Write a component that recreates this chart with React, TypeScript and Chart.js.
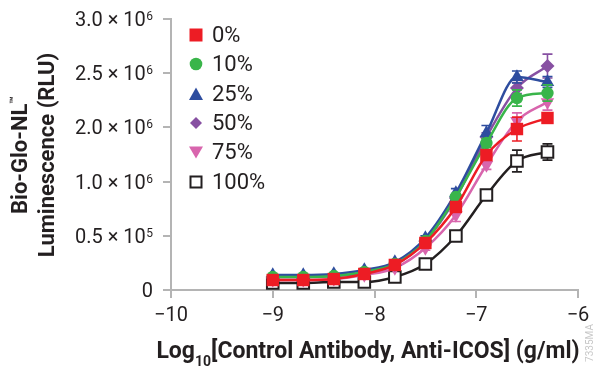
import React, { useEffect, useRef } from 'react';
import { Chart, registerables } from 'chart.js';

Chart.register(...registerables);

// log10 concentration (g/ml)
const logConc = [-9, -8.7, -8.4, -8.1, -7.8, -7.5, -7.2, -6.9, -6.6, -6.3];

const seriesLabels = ['0%', '10%', '25%', '50%', '75%', '100%'];
const seriesColors = ['#ed1c24', '#39b54a', '#2e4d9f', '#8750a2', '#d865ad', '#231f20'];

// luminescence, in axis positions (one tick step = 0.5)
const rlu0 = [0.092, 0.092, 0.101, 0.148, 0.231, 0.434, 0.766, 1.245, 1.485, 1.587];
const rlu10 = [0.12, 0.12, 0.129, 0.166, 0.24, 0.452, 0.858, 1.356, 1.771, 1.817];
const rlu25 = [0.138, 0.138, 0.148, 0.185, 0.258, 0.48, 0.895, 1.448, 1.965, 1.919];
const rlu50 = [0.12, 0.12, 0.129, 0.157, 0.231, 0.452, 0.849, 1.411, 1.863, 2.066];
const rlu75 = [0.092, 0.092, 0.101, 0.138, 0.203, 0.387, 0.692, 1.153, 1.559, 1.734];
const rlu100 = [0.065, 0.065, 0.074, 0.074, 0.12, 0.24, 0.498, 0.876, 1.19, 1.273];

// error bar half-lengths, same units
const err0 = [0, 0, 0, 0, 0.01, 0.02, 0.03, 0.045, 0.11, 0.045];
const err10 = [0, 0, 0, 0, 0.01, 0.02, 0.03, 0.04, 0.075, 0.075];
const err25 = [0, 0, 0, 0, 0.01, 0.02, 0.04, 0.07, 0.055, 0.05];
const err50 = [0, 0, 0, 0, 0.01, 0.02, 0.03, 0.04, 0.05, 0.11];
const err75 = [0, 0, 0, 0, 0.01, 0.02, 0.06, 0.04, 0.075, 0.075];
const err100 = [0, 0, 0, 0, 0.01, 0.01, 0.02, 0.03, 0.1, 0.075];

const seriesValues = [rlu0, rlu10, rlu25, rlu50, rlu75, rlu100];
const seriesErrors = [err0, err10, err25, err50, err75, err100];

// y tick labels as printed: [mantissa part, superscript exponent]
const yTickLabels: [string, string][] = [
  ['0', ''],
  ['0.5 × 10', '5'],
  ['1.0 × 10', '6'],
  ['2.0 × 10', '6'],
  ['2.5 × 10', '6'],
  ['3.0 × 10', '6'],
];
const yMin = 0;
const yMax = 2.5;
const yStep = 0.5;
const xMin = -10;
const xMax = -6;

const AXIS_GRAY = '#b4b4b4';
const TEXT = '#231f20';
const FONT = 'Roboto, "Noto Sans", sans-serif';

const pointStyles = ['rect', 'circle', 'triangle', 'rectRot', 'triangle', 'rect'];
const pointRadii = [8.8, 6.2, 7.8, 7, 7.8, 8.2];
const pointRotations = [0, 0, 0, 0, 180, 0];

const errorBarPlugin = {
  id: 'errorBars',
  beforeDatasetDraw(chart: any, args: any) {
    const i = args.index;
    const errs = seriesErrors[i];
    const vals = seriesValues[i];
    if (!errs) return;
    const xs = chart.scales.x;
    const ys = chart.scales.y;
    const ctx = chart.ctx;
    ctx.save();
    ctx.strokeStyle = seriesColors[i];
    ctx.lineWidth = 1.6;
    for (let j = 0; j < vals.length; j++) {
      const e = errs[j];
      if (!e) continue;
      const x = xs.getPixelForValue(logConc[j]);
      const yt = ys.getPixelForValue(vals[j] + e);
      const yb = ys.getPixelForValue(vals[j] - e);
      ctx.beginPath();
      ctx.moveTo(x, yt);
      ctx.lineTo(x, yb);
      ctx.moveTo(x - 5, yt);
      ctx.lineTo(x + 5, yt);
      ctx.moveTo(x - 5, yb);
      ctx.lineTo(x + 5, yb);
      ctx.stroke();
    }
    ctx.restore();
  },
};

const yLabelPlugin = {
  id: 'yLabels',
  afterDraw(chart: any) {
    const ys = chart.scales.y;
    const ctx = chart.ctx;
    const right = ys.right - 18;
    ctx.save();
    ctx.fillStyle = TEXT;
    ys.ticks.forEach((t: any, k: number) => {
      const lab = yTickLabels[k];
      if (!lab) return;
      const y = ys.getPixelForValue(t.value);
      ctx.font = `12px ${FONT}`;
      const supW = lab[1] ? ctx.measureText(lab[1]).width : 0;
      if (lab[1]) {
        ctx.textAlign = 'right';
        ctx.textBaseline = 'alphabetic';
        ctx.fillText(lab[1], right, y + 1);
      }
      ctx.font = `20px ${FONT}`;
      ctx.textAlign = 'right';
      ctx.textBaseline = 'alphabetic';
      ctx.fillText(lab[0], right - supW - (lab[1] ? 0.5 : 0), y + 7);
    });
    ctx.restore();
  },
};

function LegendIcon({ k }: { k: number }) {
  const c = seriesColors[k];
  let shape: React.ReactNode = null;
  if (k === 0) shape = <rect x={1.5} y={1.5} width={13} height={13} fill={c} />;
  if (k === 1) shape = <circle cx={8} cy={8} r={6.3} fill={c} />;
  if (k === 2) shape = <polygon points="8,1.5 15,14 1,14" fill={c} />;
  if (k === 3) shape = <polygon points="8,2 14,8 8,14 2,8" fill={c} />;
  if (k === 4) shape = <polygon points="1,2.5 15,2.5 8,14.5" fill={c} />;
  if (k === 5) shape = <rect x={2.5} y={2.5} width={11} height={11} fill="#fff" stroke={c} strokeWidth={2} />;
  return (
    <svg width={16} height={16} style={{ position: 'absolute', left: 188, top: 0 }}>
      {shape}
    </svg>
  );
}

export default function App() {
  const ref = useRef<HTMLCanvasElement>(null);

  useEffect(() => {
    document.body.style.margin = '0';
    if (!ref.current) return;
    const datasets = seriesLabels.map((label, i) => ({
      label,
      data: logConc.map((x, j) => ({ x, y: seriesValues[i][j] })),
      borderColor: seriesColors[i],
      backgroundColor: i === 5 ? '#ffffff' : seriesColors[i],
      pointBackgroundColor: i === 5 ? '#ffffff' : seriesColors[i],
      pointBorderColor: seriesColors[i],
      pointBorderWidth: i === 5 ? 2 : 0,
      pointStyle: pointStyles[i],
      pointRadius: pointRadii[i],
      pointRotation: pointRotations[i],
      pointHoverRadius: pointRadii[i],
      borderWidth: 2.5,
      cubicInterpolationMode: 'monotone' as const,
      fill: false,
    }));

    const chart = new Chart(ref.current, {
      type: 'line',
      data: { datasets },
      plugins: [errorBarPlugin, yLabelPlugin],
      options: {
        animation: false,
        responsive: false,
        maintainAspectRatio: false,
        layout: { padding: { top: 19, right: 24, left: 0, bottom: 0 } },
        plugins: { legend: { display: false }, tooltip: { enabled: false } },
        scales: {
          x: {
            type: 'linear',
            min: xMin,
            max: xMax,
            ticks: {
              stepSize: 1,
              color: TEXT,
              font: { family: FONT, size: 20 },
              padding: 6,
              maxRotation: 0,
              callback: (v: any) => String(v).replace('-', '\u2212'),
            },
            grid: {
              drawOnChartArea: false,
              drawTicks: true,
              tickLength: 8,
              color: AXIS_GRAY,
              lineWidth: 2,
            },
            border: { color: AXIS_GRAY, width: 2 },
            afterFit: (s: any) => {
              s.height = 77;
            },
          },
          y: {
            type: 'linear',
            min: yMin,
            max: yMax,
            ticks: { stepSize: yStep, display: false },
            grid: {
              drawOnChartArea: false,
              drawTicks: true,
              tickLength: 8,
              color: AXIS_GRAY,
              lineWidth: 2,
            },
            border: { color: AXIS_GRAY, width: 2 },
            afterFit: (s: any) => {
              s.width = 171;
            },
          },
        },
      },
    });
    return () => chart.destroy();
  }, []);

  return (
    <div style={{ position: 'relative', width: 602, height: 367, background: '#fff', overflow: 'hidden' }}>
      <canvas ref={ref} width={602} height={367} style={{ position: 'absolute', left: 0, top: 0 }} />
      {seriesLabels.map((lab, k) => (
        <div
          key={lab}
          style={{
            position: 'absolute',
            left: 0,
            top: 35 + 29.3 * k - 8,
            height: 16,
            width: 300,
          }}
        >
          <LegendIcon k={k} />
          <span
            style={{
              position: 'absolute',
              left: 212,
              top: -5,
              font: `22px ${FONT}`,
              lineHeight: '26px',
              color: TEXT,
              whiteSpace: 'nowrap',
            }}
          >
            {lab}
          </span>
        </div>
      ))}
      <div
        style={{
          position: 'absolute',
          left: 33 - 150,
          top: 155 - 27,
          width: 300,
          height: 54,
          transform: 'rotate(-90deg)',
          transformOrigin: 'center',
          textAlign: 'center',
          font: `bold 22px ${FONT}`,
          lineHeight: '27px',
          color: TEXT,
          whiteSpace: 'nowrap',
        }}
      >
        <div>
          Bio-Glo-NL<span style={{ fontSize: 12, verticalAlign: 9, lineHeight: 0 }}>™</span>
        </div>
        <div>Luminescence (RLU)</div>
      </div>
      <div
        style={{
          position: 'absolute',
          left: 368 - 300,
          top: 337,
          width: 600,
          textAlign: 'center',
          font: `bold 23px ${FONT}`,
          lineHeight: '27px',
          color: TEXT,
          whiteSpace: 'nowrap',
        }}
      >
        Log<span style={{ fontSize: 14, verticalAlign: -8, lineHeight: 0 }}>10</span>[Control Antibody, Anti-ICOS] (g/ml)
      </div>
      <div
        style={{
          position: 'absolute',
          left: 590 - 30,
          top: 343 - 6,
          width: 60,
          height: 12,
          transform: 'rotate(-90deg)',
          textAlign: 'center',
          font: `10px ${FONT}`,
          lineHeight: '12px',
          color: '#c8c8c8',
        }}
      >
        7335MA
      </div>
    </div>
  );
}
